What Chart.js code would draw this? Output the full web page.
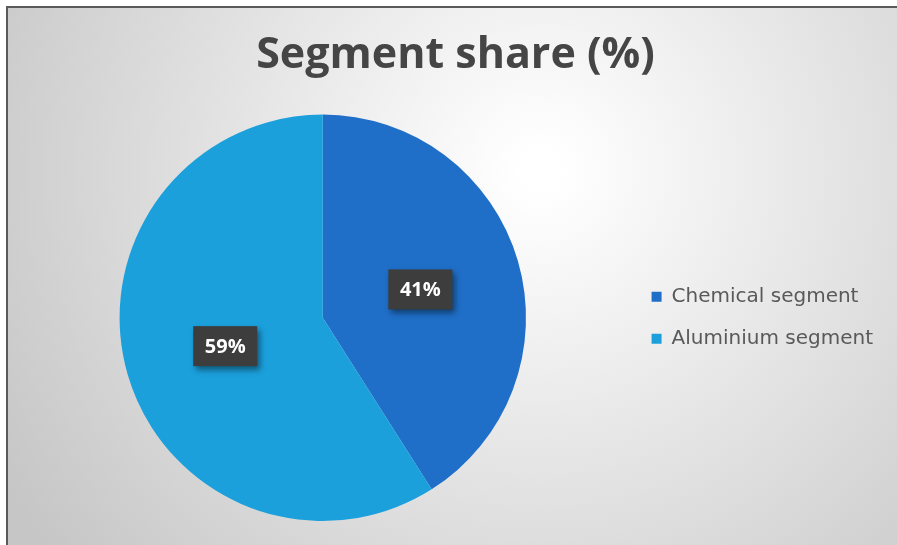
<!DOCTYPE html>
<html>
<head>
<meta charset="utf-8">
<script src="https://cdn.jsdelivr.net/npm/chart.js@4.4.1/dist/chart.umd.min.js"></script>
<style>
  html, body { margin: 0; padding: 0; background: #ffffff; }
  #wrap { position: relative; width: 897px; height: 545px; }
</style>
</head>
<body>
<div id="wrap"><canvas id="pieChart" width="897" height="545"></canvas></div>
<script>
// chart data
const categories = ['Chemical segment', 'Aluminium segment'];
const shares = [41, 59];
const sliceColors = ['#1f6fc8', '#1ba0dc'];
const chartTitle = 'Segment share (%)';

// grey frame + radial background like the office chart
const frameBg = {
    id: 'frameBg',
    beforeDraw(chart) {
        const ctx = chart.ctx;
        const w = chart.width, h = chart.height;
        ctx.save();
        ctx.fillStyle = '#ffffff';
        ctx.fillRect(0, 0, w, h);
        const g = ctx.createRadialGradient(540, 170, 20, 540, 170, 620);
        g.addColorStop(0, '#ffffff');
        g.addColorStop(1, '#c6c6c6');
        ctx.fillStyle = g;
        ctx.fillRect(8, 8, w - 8, h - 8);
        ctx.fillStyle = '#5a5a5a';
        ctx.fillRect(6, 6, w - 6, 2);
        ctx.fillRect(6, 6, 2, h - 6);
        ctx.restore();
    }
};

// pull the legend closer to the pie, push the title a bit right
const layoutNudge = {
    id: 'layoutNudge',
    afterLayout(chart) {
        chart.legend.left -= 8;
        chart.legend.right -= 8;
        chart.titleBlock.left += 6;
        chart.titleBlock.right += 6;
    }
};

// dark callout boxes with the percentages
const sliceLabels = {
    id: 'sliceLabels',
    afterDatasetsDraw(chart) {
        const ctx = chart.ctx;
        const meta = chart.getDatasetMeta(0);
        ctx.save();
        ctx.font = 'bold 20px "Open Sans", sans-serif';
        ctx.textAlign = 'center';
        ctx.textBaseline = 'middle';
        meta.data.forEach((arc, i) => {
            const p = arc.tooltipPosition();
            const text = shares[i] + '%';
            const bw = 64, bh = 40;
            ctx.shadowColor = 'rgba(0,0,0,0.45)';
            ctx.shadowBlur = 6;
            ctx.shadowOffsetX = 3;
            ctx.shadowOffsetY = 4;
            ctx.fillStyle = '#3d3d3d';
            ctx.fillRect(p.x - bw / 2, p.y - bh / 2, bw, bh);
            ctx.shadowColor = 'transparent';
            ctx.fillStyle = '#ffffff';
            ctx.fillText(text, p.x, p.y + 1);
        });
        ctx.restore();
    }
};

const ctx = document.getElementById('pieChart').getContext('2d');
const pieChart = new Chart(ctx, {
    type: 'pie',
    data: {
        labels: categories,
        datasets: [{
            data: shares,
            backgroundColor: sliceColors,
            borderWidth: 0
        }]
    },
    options: {
        responsive: false,
        animation: false,
        layout: {
            padding: { left: 8, top: 8, right: 6, bottom: 24 }
        },
        plugins: {
            title: {
                display: true,
                text: chartTitle,
                color: '#454545',
                font: { family: '"Open Sans", sans-serif', size: 43, weight: 'bold' },
                padding: { top: 22, bottom: 33 }
            },
            legend: {
                position: 'right',
                align: 'center',
                fullSize: false,
                labels: {
                    boxWidth: 10,
                    boxHeight: 10,
                    padding: 22,
                    color: '#595959',
                    font: { family: '"DejaVu Sans", sans-serif', size: 20 }
                }
            },
            tooltip: { enabled: false }
        }
    },
    plugins: [frameBg, layoutNudge, sliceLabels]
});
</script>
</body>
</html>
